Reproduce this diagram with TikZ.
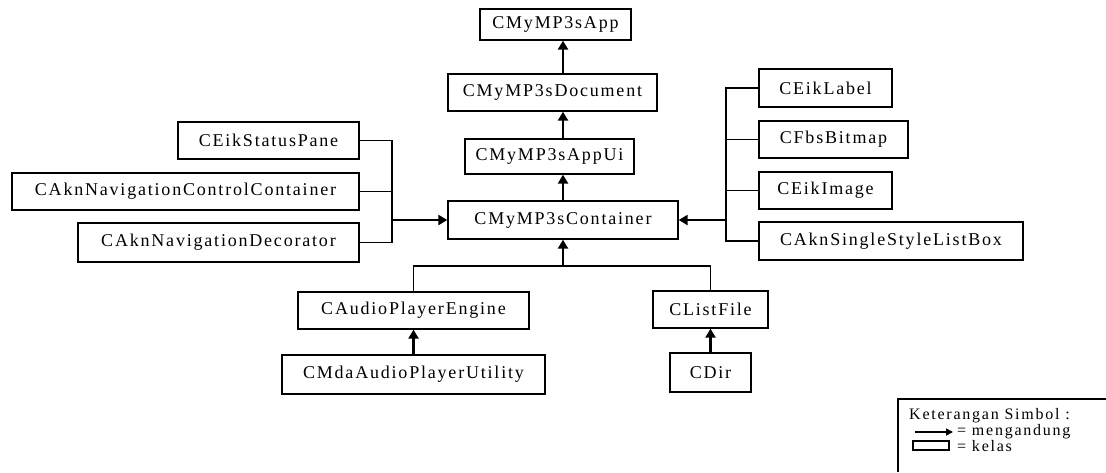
\documentclass[tikz,border=0pt]{standalone}
\usepackage{fontspec}
\setmainfont{Liberation Serif}
\newfontfamily\clsfont[LetterSpace=10]{Liberation Serif}
\newfontfamily\ketfont[LetterSpace=11]{Liberation Serif}
\usetikzlibrary{arrows.meta,positioning}
\tikzset{
  kelas/.style={draw, line width=1.3pt, inner sep=0pt,
    font=\clsfont\fontsize{18}{20}\selectfont},
  link/.style={line width=1.3pt},
  keterangan/.style={inner sep=0pt, anchor=base west,
    font=\ketfont\fontsize{16}{17}\selectfont}
}
% class box: name, x, y, width, height, label
\newcommand{\kelasbox}[6]{\node[kelas, minimum width=#4pt, minimum height=#5pt] (#1) at (#2,#3) {#6};}
\newcommand{\drawhas}{\draw[line width=2.6pt,-{Triangle[width=10pt,length=9pt]}]}
\begin{document}
\begin{tikzpicture}[x=1pt,y=-1pt]
\useasboundingbox (0,0) rectangle (1106,472);
% main chain
\kelasbox{app}{555.5}{24.5}{151}{31}{CMyMP3sApp}
\kelasbox{doc}{552.5}{92.5}{209}{37}{CMyMP3sDocument}
\kelasbox{appui}{549.5}{156.5}{169}{35}{CMyMP3sAppUi}
\kelasbox{cont}{563}{220}{230}{38}{CMyMP3sContainer}
% left side
\kelasbox{status}{268.5}{140.5}{181}{37}{CEikStatusPane}
\kelasbox{navcc}{185.5}{191.5}{347}{37}{CAknNavigationControlContainer}
\kelasbox{navdec}{218.5}{242.5}{281}{39}{CAknNavigationDecorator}
% right side
\kelasbox{label}{825.5}{88}{133}{38}{CEikLabel}
\kelasbox{bitmap}{833.5}{139.5}{149}{37}{CFbsBitmap}
\kelasbox{image}{825.5}{190.5}{133}{37}{CEikImage}
\kelasbox{listbox}{891}{241}{264}{38}{CAknSingleStyleListBox}
% below
\kelasbox{engine}{413.5}{310.5}{231}{37}{CAudioPlayerEngine}
\kelasbox{utility}{413.5}{374.5}{263}{39}{CMdaAudioPlayerUtility}
\kelasbox{listfile}{710.5}{309.5}{115}{37}{CListFile}
\kelasbox{dir}{710.5}{372.5}{81}{39}{CDir}

\drawhas (cont.north) -- (appui.south -| cont.north);
\drawhas (appui.north -| cont.north) -- (doc.south -| cont.north);
\drawhas (doc.north -| cont.north) -- (app.south -| cont.north);

\coordinate (lbus) at (392,220);
\draw[link] (status.east) -| (lbus) |- (navdec.east);
\draw[link] (navcc.east) -- (navcc.east -| lbus);
\drawhas (lbus) -- (cont.west);

\coordinate (rbus) at (726,220);
\draw[link] (label.west) -| (rbus) |- (listbox.west);
\draw[link] (bitmap.west) -- (bitmap.west -| rbus);
\draw[link] (image.west) -- (image.west -| rbus);
\drawhas (rbus) -- (cont.east);

\coordinate (bbus) at (563,266);
\draw[link] (engine.north) |- (bbus) -| (listfile.north);
\drawhas (bbus) -- (cont.south);
\drawhas (utility.north) -- (engine.south);
\drawhas (dir.north) -- (listfile.south);

% legend
\draw[link] (898,472) |- (1106,399);
\node[keterangan] (judul) at (909,419) {Keterangan Simbol :};
\coordinate (pa) at (915,432);
\coordinate (pb) at (953,432);
\draw[line width=1.6pt,-{Triangle[width=7pt,length=7pt]}] (pa) -- (pb);
\node[keterangan] (mengandung) at (957,435) {= mengandung};
\node[draw, line width=1.2pt, inner sep=0pt, minimum width=36pt, minimum height=9pt] (contoh) at (931,445.5) {};
\node[keterangan] (kelas) at (957,451) {= kelas};
\end{tikzpicture}
\end{document}
